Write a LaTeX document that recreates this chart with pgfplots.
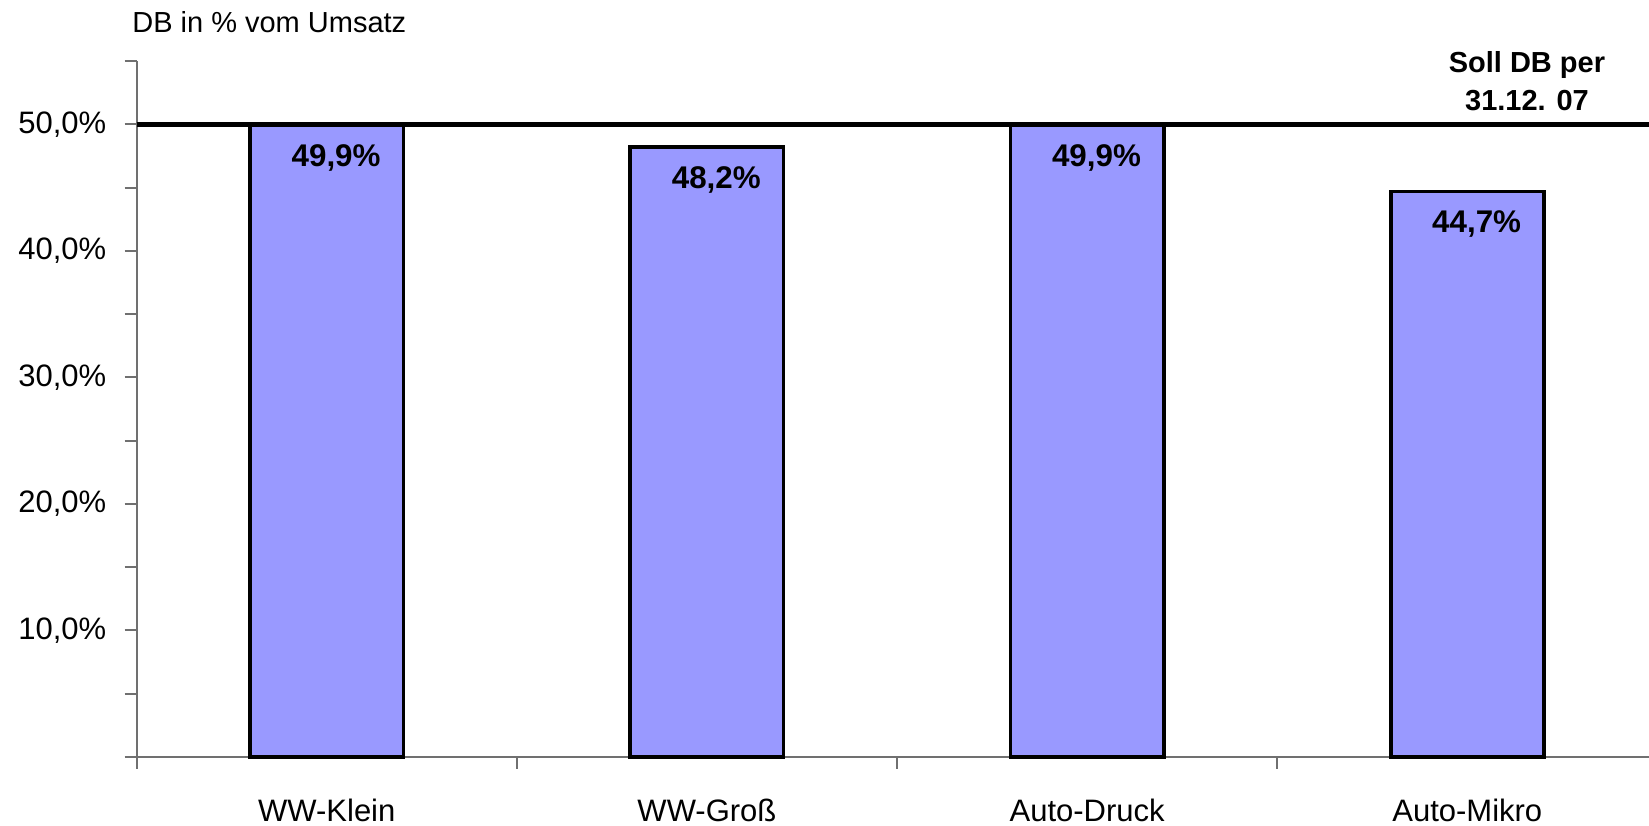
\documentclass[border=0pt]{standalone}
\usepackage{fontspec}
\setmainfont{Liberation Sans}
\usepackage{pgfplots}
\pgfplotsset{compat=1.18}
\definecolor{barfill}{HTML}{9999FF}
\definecolor{axisgray}{HTML}{707070}
\begin{document}
\begin{tikzpicture}
\begin{axis}[
  scale only axis, width=453.7pt, height=208.8pt,
  at={(0,0)}, anchor=south west,
  xmin=-0.5, xmax=3.478, ymin=0, ymax=55,
  axis x line=bottom, axis y line=left,
  axis line style={-, draw=axisgray, line width=0.6pt},
  tick align=outside, major tick length=3.6pt,
  tick style={draw=axisgray, line width=0.6pt},
  ytick={0,5,...,55},
  yticklabels={{},{},{10,0\%},{},{20,0\%},{},{30,0\%},{},{40,0\%},{},{50,0\%},{}},
  yticklabel style={font=\fontsize{9.3}{11}\selectfont, xshift=-2pt},
  xtick={-0.5,0.5,1.5,2.5}, xticklabel=\empty,
  extra x ticks={0,1,2,3},
  extra x tick labels={WW-Klein,WW-Groß,Auto-Druck,Auto-Mikro},
  extra x tick style={major tick length=0pt},
  xticklabel style={font=\fontsize{9.3}{11}\selectfont, yshift=-9pt},
  clip=false,
]
\addplot[ybar, bar width=0.403, fill=barfill, draw=black, line width=1.1pt,
  nodes near coords={\pgfmathprintnumber[assume math mode=true,fixed,fixed zerofill,precision=1,use comma]{\pgfplotspointmeta}\%},
  every node near coord/.append style={anchor=base, yshift=-12.3pt, xshift=2.8pt,
    font=\bfseries\fontsize{9.4}{11}\selectfont, text=black}]
  coordinates {(0,49.9) (1,48.2) (2,49.9) (3,44.7)};
\addplot[black, line width=1.6pt, forget plot] coordinates {(-0.5,50) (3.478,50)};
\node[anchor=south, inner sep=0pt, align=center, yshift=3.9pt,
  font=\bfseries\fontsize{8.7}{11.4}\selectfont] at (axis cs:3.157,50) {Soll DB per\\31.12. 07};
\node[anchor=base west, inner sep=0pt, font=\fontsize{8.7}{10}\selectfont]
  at ([xshift=-1.5pt, yshift=8.7pt]rel axis cs:0,1) {DB in \% vom Umsatz};
\end{axis}
\pgfresetboundingbox
\path[use as bounding box] (-41.0pt,-20.7pt) rectangle (453.7pt,227.1pt);
\end{tikzpicture}
\end{document}
